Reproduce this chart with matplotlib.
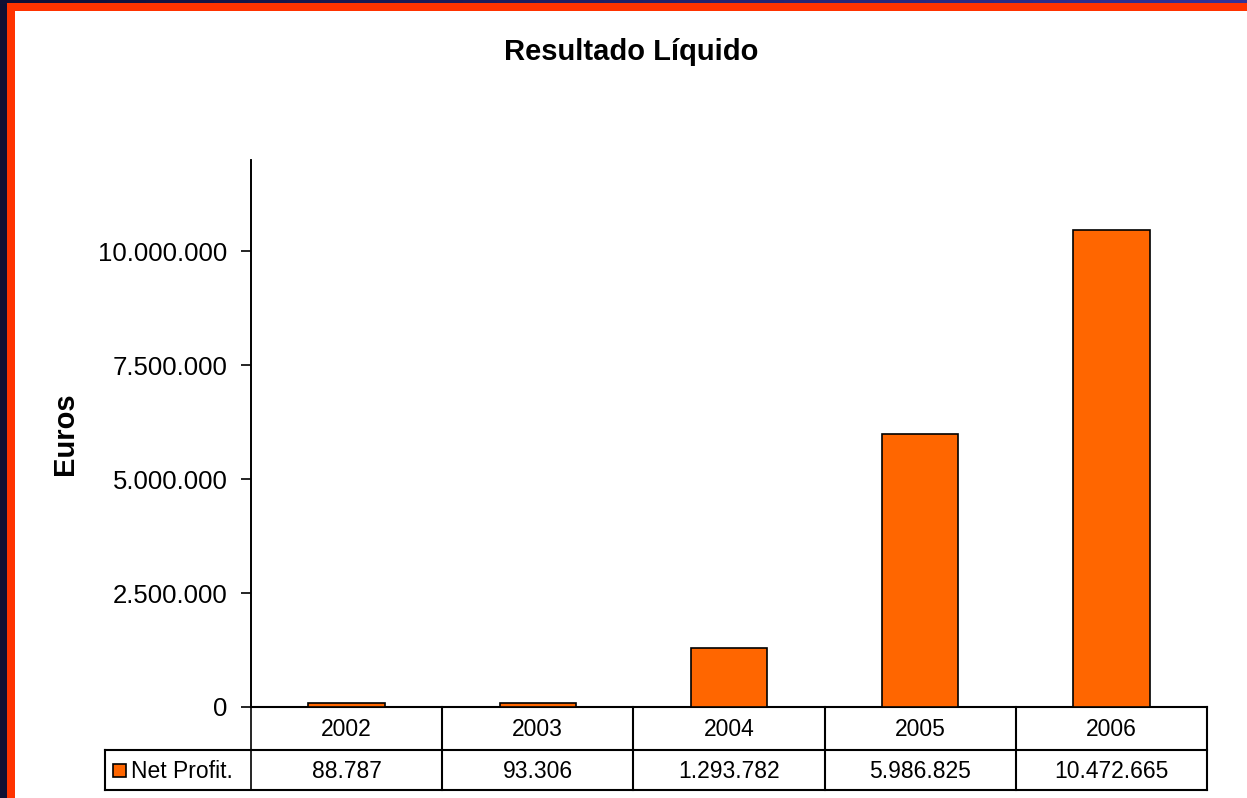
import numpy as np
import matplotlib
matplotlib.use("Agg")
import matplotlib.pyplot as plt
from matplotlib.patches import Rectangle
from matplotlib.ticker import FuncFormatter, MultipleLocator
from matplotlib.colors import LinearSegmentedColormap

plt.rcParams['font.family'] = ['Liberation Sans', 'DejaVu Sans']

years = ['2002', '2003', '2004', '2005', '2006']
net_profit = [88787, 93306, 1293782, 5986825, 10472665]
series_name = 'Net Profit.'
title = 'Resultado Líquido'
ylabel = 'Euros'

W, H = 1247, 798
fig = plt.figure(figsize=(W / 100, H / 100), dpi=100)
fig.patch.set_facecolor('#0f0f33')

# background frame: gradient top strip, orange border, white panel
bg = fig.add_axes([0, 0, 1, 1], zorder=-10)
bg.set_xlim(0, W)
bg.set_ylim(H, 0)
bg.axis('off')
grad = np.linspace(0, 1, 256)[None, :]
cmap = LinearSegmentedColormap.from_list('g', ['#101035', '#333399'])
bg.imshow(grad, extent=[0, W, 4, 0], aspect='auto', cmap=cmap)
bg.add_patch(Rectangle((7, 3), W - 7, H - 3, color='#ff3300', lw=0))
bg.add_patch(Rectangle((15, 11), W - 15, H - 11, color='white', lw=0))

fig.text(631 / W, 1 - 52 / H, title, ha='center', va='center',
         fontsize=21, fontweight='bold')

left, right, top, bottom = 251, 1207, 160, 707
ax = fig.add_axes([left / W, 1 - bottom / H, (right - left) / W, (bottom - top) / H])
ax.set_facecolor('none')
x = np.arange(len(years))
ax.bar(x, net_profit, width=0.4, color='#ff6600', edgecolor='black', linewidth=1.2, zorder=3)
ax.set_xlim(-0.5, len(years) - 0.5)
ax.set_ylim(0, 12000000)
ax.yaxis.set_major_locator(MultipleLocator(2500000))
ax.yaxis.set_major_formatter(FuncFormatter(lambda v, p: f"{int(v):,}".replace(',', '.')))
ax.tick_params(axis='y', labelsize=18.5, length=7, width=1.2, direction='out', pad=10)
ax.tick_params(axis='x', bottom=False, labelbottom=False)
for s in ['top', 'right']:
    ax.spines[s].set_visible(False)
ax.spines['left'].set_linewidth(1.2)
ax.spines['bottom'].set_linewidth(1.5)

fig.text(65 / W, 1 - 434 / H, ylabel, rotation=90, ha='center', va='center',
         fontsize=21, fontweight='bold')

# data table below the axes (drawn in pixel coords on bg axes)
row1_top, row1_bot, row2_bot = 707, 750, 790
leg_left = 105
colw = (right - left) / len(years)
lw = 1.5
bg.plot([left, left], [top, row2_bot], color='black', lw=1.2, zorder=5)
bg.plot([left, right], [row1_bot, row1_bot], color='black', lw=lw, zorder=5)
bg.plot([leg_left, right], [row2_bot, row2_bot], color='black', lw=lw, zorder=5)
bg.plot([leg_left, left], [row1_bot, row1_bot], color='black', lw=lw, zorder=5)
bg.plot([leg_left, leg_left], [row1_bot, row2_bot], color='black', lw=lw, zorder=5)
for i in range(1, len(years) + 1):
    xx = left + i * colw
    bg.plot([xx, xx], [row1_top, row2_bot], color='black', lw=lw, zorder=5)
for i, (yr, v) in enumerate(zip(years, net_profit)):
    cx = left + (i + 0.5) * colw
    bg.text(cx, (row1_top + row1_bot) / 2 + 1, yr, ha='center', va='center', fontsize=16.5)
    bg.text(cx, (row1_bot + row2_bot) / 2 + 1, f"{v:,}".replace(',', '.'),
            ha='center', va='center', fontsize=16.5)
bg.add_patch(Rectangle((113, 764), 13, 13, facecolor='#ff6600', edgecolor='black', lw=1.2, zorder=5))
bg.text(131, (row1_bot + row2_bot) / 2 + 1, series_name, ha='left', va='center', fontsize=16.5)

fig.savefig('out.png', dpi=100, facecolor=fig.get_facecolor())
